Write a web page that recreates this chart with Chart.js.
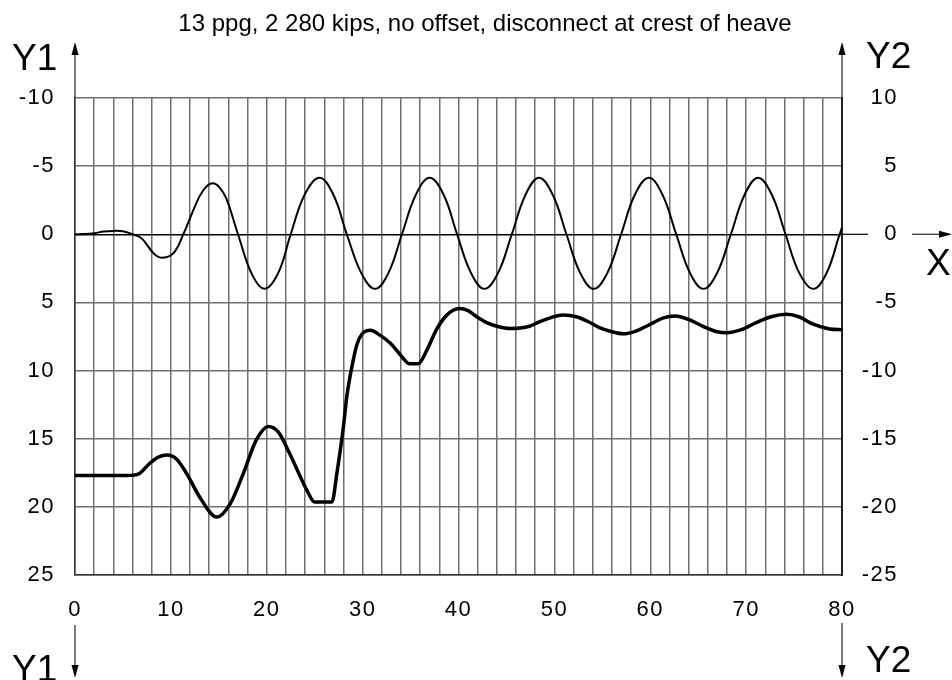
<!DOCTYPE html>
<html>
<head>
<meta charset="utf-8">
<script src="https://cdn.jsdelivr.net/npm/chart.js@4/dist/chart.umd.min.js"></script>
<style>
  html, body { margin: 0; padding: 0; background: #fff; }
  #wrap { width: 952px; height: 680px; position: relative; }
</style>
</head>
<body>
<div id="wrap"><canvas id="c" width="952" height="680"></canvas></div>
<script>
var titleText = '13 ppg, 2 280 kips, no offset, disconnect at crest of heave';

// thin curve (heave), read against the right axis Y2
var heaveX = [0, 1, 2, 3, 4, 5, 6, 6.95, 8.2, 9.0, 10.25, 11.3, 12.3, 13.0, 13.7, 14.35, 15.0, 15.8, 17.0, 18.5, 19.8,
  21.2, 22.5, 23.95, 25.5, 26.95, 28.35, 29.85, 31.3, 32.7, 34.1, 35.55, 37.0, 38.45, 39.85, 41.3, 42.7,
  44.13, 45.56, 46.99, 48.4, 49.83, 51.26, 52.69, 54.1, 55.53, 56.96, 58.39, 59.85, 61.28, 62.71, 64.14, 65.55,
  66.98, 68.41, 69.84, 71.25, 72.68, 74.11, 75.54, 77.0, 78.4, 79.75, 80];
var heaveY = [0, 0.02, 0.08, 0.2, 0.25, 0.22, 0, -0.3, -1.4, -1.72, -1.4, 0, 1.7, 2.8, 3.5, 3.75, 3.5, 2.6, 0, -3.0, -4.0,
  -2.83, 0, 2.9, 4.15, 2.9, 0, -2.83, -4.0, -2.83, 0, 2.9, 4.15, 2.9, 0, -2.83, -4.0,
  -2.83, 0, 2.9, 4.15, 2.9, 0, -2.83, -4.0, -2.83, 0, 2.9, 4.15, 2.9, 0, -2.83, -4.0,
  -2.83, 0, 2.9, 4.15, 2.9, 0, -2.83, -4.0, -2.83, 0, 0.5];

// thick curve, read against the left axis Y1 (positive downwards)
var loadX = [0, 5.4, 6.6, 7.8, 8.7, 9.6, 10.6, 11.65, 13.0, 14.8, 16.2, 17.55, 18.9, 20.16, 21.2, 22.4, 24.2, 25.0,
  26.8, 27.3, 28.0, 28.35, 29.0, 29.4, 29.9, 30.8, 31.8, 32.9, 34.0, 34.9, 35.8, 36.7, 37.7, 38.75, 40.1, 41.0,
  41.9, 43.0, 44.0, 45.4, 47.4, 48.5, 49.5, 50.9, 52.3, 53.5, 54.7, 56.0, 57.2, 58.5, 60.0, 61.3, 62.6, 64.0,
  65.5, 67.0, 68.0, 69.5, 71.0, 72.6, 74.2, 75.5, 77.0, 78.7, 80];
var loadY = [17.7, 17.7, 17.6, 16.8, 16.35, 16.2, 16.5, 17.56, 19.27, 20.75, 19.76, 17.56, 15.1, 14.1, 14.5, 16.1, 18.8, 19.65,
  19.65, 17.6, 14.1, 11.9, 9.3, 8.1, 7.35, 7.05, 7.4, 8.0, 8.9, 9.5, 9.5, 8.5, 7.0, 5.95, 5.45, 5.6,
  6.05, 6.5, 6.75, 6.92, 6.75, 6.4, 6.15, 5.92, 6.05, 6.4, 6.85, 7.15, 7.3, 7.1, 6.6, 6.15, 6.0, 6.25,
  6.75, 7.15, 7.22, 7.0, 6.5, 6.05, 5.87, 6.05, 6.6, 6.95, 7.0];

var xMin = 0, xMax = 80, xGridStep = 2, xLabelStep = 10;
var y1Min = -10, y1Max = 25, y2Min = -25, y2Max = 10, yStep = 5;

function pts(xs, ys) {
  var out = [];
  for (var i = 0; i < xs.length; i++) out.push({ x: xs[i], y: ys[i] });
  return out;
}

var FONT = '"Liberation Sans", Arial, sans-serif';

function arrow(ctx, x, y0, y1) {
  // line from y0 to tip at y1
  var dir = y1 < y0 ? 1 : -1;
  ctx.beginPath();
  ctx.moveTo(x, y0);
  ctx.lineTo(x, y1 + dir * 10);
  ctx.stroke();
  ctx.beginPath();
  ctx.moveTo(x, y1);
  ctx.lineTo(x - 3.5, y1 + dir * 13);
  ctx.lineTo(x + 3.5, y1 + dir * 13);
  ctx.closePath();
  ctx.fill();
}

var decor = {
  id: 'decor',
  beforeDraw: function (chart) {
    chart.ctx.letterSpacing = '1.5px';
  },
  afterDraw: function (chart) {
    var ctx = chart.ctx, a = chart.chartArea;
    var y0 = chart.scales.y.getPixelForValue(0);
    ctx.save();
    ctx.letterSpacing = '0px';
    ctx.fillStyle = '#000';
    ctx.strokeStyle = '#222';
    ctx.lineWidth = 1.2;

    ctx.font = '24px ' + FONT;
    ctx.textAlign = 'center';
    ctx.textBaseline = 'alphabetic';
    ctx.fillText(titleText, 485, 31);

    // zero line running out past the right edge
    ctx.beginPath();
    ctx.moveTo(a.right, y0);
    ctx.lineTo(868, y0);
    ctx.strokeStyle = '#000';
    ctx.stroke();
    ctx.strokeStyle = '#222';

    arrow(ctx, a.left, a.top, 42);
    arrow(ctx, a.right, a.top, 42);
    arrow(ctx, a.left, 625, 678);
    arrow(ctx, a.right, 623, 678);

    // X arrow
    ctx.beginPath();
    ctx.moveTo(912, y0);
    ctx.lineTo(942, y0);
    ctx.stroke();
    ctx.beginPath();
    ctx.moveTo(952, y0);
    ctx.lineTo(939, y0 - 3.5);
    ctx.lineTo(939, y0 + 3.5);
    ctx.closePath();
    ctx.fill();

    ctx.font = '37px ' + FONT;
    ctx.textAlign = 'left';
    ctx.fillText('Y1', 12, 70);
    ctx.fillText('Y2', 866, 68);
    ctx.fillText('Y1', 12, 681);
    ctx.fillText('Y2', 866, 672);
    ctx.fillText('X', 926, 275);
    ctx.restore();
  }
};

new Chart(document.getElementById('c'), {
  type: 'line',
  data: {
    datasets: [{
      data: pts(heaveX, heaveY),
      yAxisID: 'y2',
      borderColor: '#000',
      borderWidth: 2,
      pointRadius: 0,
      tension: 0.4
    }, {
      data: pts(loadX, loadY),
      yAxisID: 'y',
      borderColor: '#000',
      borderWidth: 3.5,
      pointRadius: 0,
      cubicInterpolationMode: 'monotone'
    }]
  },
  options: {
    responsive: false,
    animation: false,
    layout: { padding: { top: 98, left: 0, right: 54, bottom: 0 } },
    plugins: { legend: { display: false }, tooltip: { enabled: false }, title: { display: false } },
    scales: {
      x: {
        type: 'linear',
        min: xMin, max: xMax,
        afterFit: function (s) { s.height = 105; },
        grid: { color: '#707070', lineWidth: 1.5, drawTicks: false },
        border: { color: '#333', width: 1.5 },
        ticks: {
          stepSize: xGridStep,
          autoSkip: false,
          maxRotation: 0,
          padding: 22,
          color: '#000',
          font: { family: FONT, size: 22 },
          callback: function (v) { return v % xLabelStep === 0 ? String(v) : ''; }
        }
      },
      y: {
        position: 'left',
        reverse: true,
        min: y1Min, max: y1Max,
        afterFit: function (s) { s.width = 75; },
        grid: {
          drawTicks: false,
          lineWidth: 1.5,
          color: function (c) { return c.tick && c.tick.value === 0 ? '#000' : '#707070'; }
        },
        border: { color: '#333', width: 1.5 },
        ticks: { stepSize: yStep, padding: 20, color: '#000', font: { family: FONT, size: 22 } }
      },
      y2: {
        position: 'right',
        min: y2Min, max: y2Max,
        afterFit: function (s) { s.width = 56; },
        grid: { display: false, drawTicks: false },
        border: { color: '#222', width: 2 },
        ticks: { stepSize: yStep, crossAlign: 'far', color: '#000', font: { family: FONT, size: 22 } }
      }
    }
  },
  plugins: [decor]
});
</script>
</body>
</html>
